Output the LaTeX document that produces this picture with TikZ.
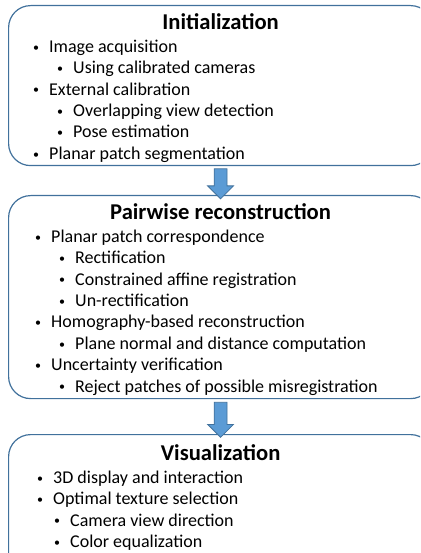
\documentclass[tikz,border=0pt]{standalone}
\usepackage{fontspec}
\setmainfont{Carlito}
\usetikzlibrary{shapes.arrows, positioning}

\definecolor{boxline}{RGB}{65,113,156}
\definecolor{arrowfill}{RGB}{91,155,213}

\newlength\subind
\setlength\subind{24pt}
\newcommand{\dotmark}{\raisebox{1.2pt}{\fontsize{12pt}{12pt}\selectfont\textbullet}}
\newcommand{\lvlone}[1]{\makebox[16pt][l]{\dotmark}#1}
\newcommand{\lvltwo}[1]{\hspace*{\subind}\makebox[16pt][l]{\dotmark}#1}

\begin{document}
\begin{tikzpicture}[x=1pt, y=-1pt,
	frame/.style={draw=boxline, line width=1.2pt, rounded corners=22pt, minimum width=424pt, minimum height=#1, anchor=north west, inner sep=0pt},
	title/.style={font=\fontsize{22.6pt}{26pt}\selectfont\bfseries, anchor=base, inner sep=0pt},
	list/.style={font=\fontsize{18pt}{21.4pt}\selectfont, align=left, anchor=base west, inner sep=0pt},
	blockarrow/.style={single arrow, shape border rotate=270, draw=boxline, line width=0.8pt, fill=arrowfill, inner sep=6pt, single arrow head extend=6.5pt, minimum height=#1}]
	\useasboundingbox (0,0) rectangle (420,553);
	\clip (0,0) rectangle (420,553);
	% the three stages
	\node[frame=160pt] (init) at (8,5) {};
	\node[frame=203pt] (pair) at (8,195) {};
	\node[frame=140pt] (vis) at (8,434) {};
	% titles
	\node[title] (initT) at ([yshift=-24.3pt]init.north) {Initialization};
	\node[title] (pairT) at ([yshift=-24pt]pair.north) {Pairwise reconstruction};
	\node[title] (visT) at ([yshift=-26.7pt]vis.north) {Visualization};
	% bullet lists (anchored on the last line)
	\node[list] (initL) at ([xshift=25pt, yshift=-154.3pt]init.north west) {%
		\lvlone{Image acquisition}\\
		\lvltwo{Using calibrated cameras}\\
		\lvlone{External calibration}\\
		\lvltwo{Overlapping view detection}\\
		\lvltwo{Pose estimation}\\
		\lvlone{Planar patch segmentation}};
	\node[list] (pairL) at ([xshift=27pt, yshift=-197.1pt]pair.north west) {%
		\lvlone{Planar patch correspondence}\\
		\lvltwo{Rectification}\\
		\lvltwo{Constrained affine registration}\\
		\lvltwo{Un-rectification}\\
		\lvlone{Homography-based reconstruction}\\
		\lvltwo{Plane normal and distance computation}\\
		\lvlone{Uncertainty verification}\\
		\lvltwo{Reject patches of possible misregistration}};
	\node[list] (visL) at ([xshift=29pt, yshift=-113.5pt]vis.north west) {%
		\lvlone{3D display and interaction}\\
		\lvlone{Optimal texture selection}\\
		\setlength\subind{17pt}\lvltwo{Camera view direction}\\
		\setlength\subind{17pt}\lvltwo{Color equalization}};
	% block arrows between stages
	\path (init.south) -- (pair.north) node[midway, blockarrow=30pt] (a1) {};
	\path (pair.south) -- (vis.north) node[midway, blockarrow=35pt] (a2) {};
\end{tikzpicture}
\end{document}
